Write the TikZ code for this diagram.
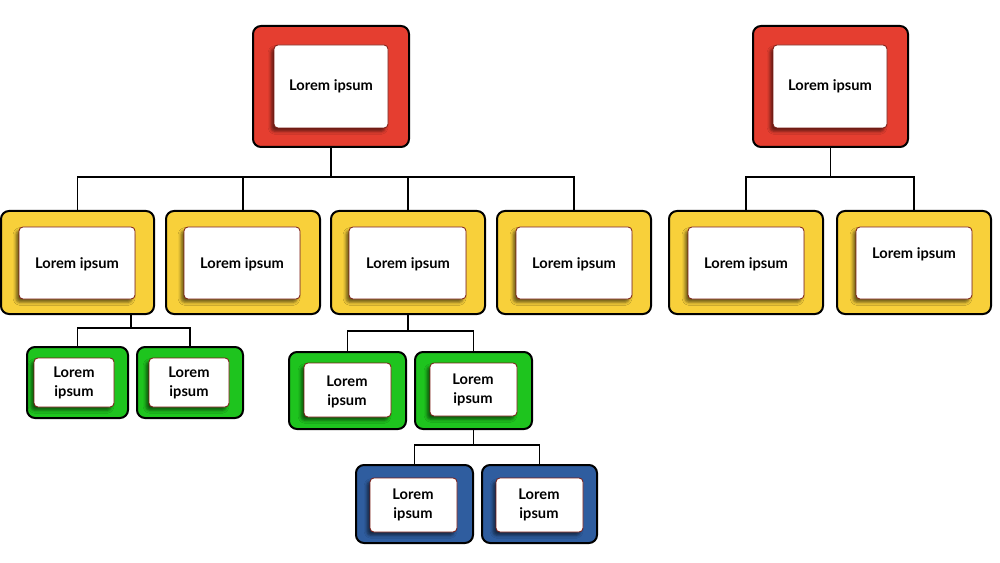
\documentclass[tikz,border=0pt]{standalone}
\usepackage{fontspec}
\setmainfont{Lato}
\usetikzlibrary{fit,shadows.blur}
\definecolor{cred}{HTML}{E53E30}
\definecolor{cyel}{HTML}{F8D03A}
\definecolor{cgrn}{HTML}{1EC41E}
\definecolor{cblu}{HTML}{2F5D9F}
\definecolor{cbord}{HTML}{7A1A12}
\tikzset{
  outer/.style={draw=black, line width=1.5pt, rounded corners=6pt, inner sep=0pt},
  redbox/.style={outer, fill=cred},
  yelbox/.style={outer, fill=cyel},
  grnbox/.style={outer, fill=cgrn},
  blubox/.style={outer, fill=cblu},
  inbox/.style={draw=cbord, line width=0.6pt, fill=white, rounded corners=3pt, inner sep=0pt,
    blur shadow={shadow xshift=-2.2pt, shadow yshift=-2.6pt, shadow opacity=55, shadow blur radius=2.2pt}},
  lbl/.style={font=\bfseries\fontsize{11}{14.25}\selectfont, align=center, text=black, inner sep=0pt},
  conn/.style={draw=black, line width=1.1pt}
}
\begin{document}
\begin{tikzpicture}[x=0.75pt,y=-0.75pt]
\useasboundingbox (0,0) rectangle (1000,563);
% outer boxes
\node[redbox, fit={(253,26)(409,147)}] (r1) {};
\node[redbox, fit={(753,26)(908,147)}] (r2) {};
\node[yelbox, fit={(1,211)(154,314)}] (y1) {};
\node[yelbox, fit={(166,211)(320,314)}] (y2) {};
\node[yelbox, fit={(331,211)(485,314)}] (y3) {};
\node[yelbox, fit={(497,211)(651,314)}] (y4) {};
\node[yelbox, fit={(669,211)(823,314)}] (y5) {};
\node[yelbox, fit={(837,211)(991,314)}] (y6) {};
\node[grnbox, fit={(27,347)(128,418)}] (g1) {};
\node[grnbox, fit={(137,347)(243,418)}] (g2) {};
\node[grnbox, fit={(289,352)(406,429)}] (g3) {};
\node[grnbox, fit={(415,352)(532,429)}] (g4) {};
\node[blubox, fit={(356,465)(473,543)}] (u1) {};
\node[blubox, fit={(482,465)(597,543)}] (u2) {};
% junction points
\coordinate (b1) at (r1.south |- 0,177);
\coordinate (b2) at (131,328);
\coordinate (b3) at (y3.south |- 0,331);
\coordinate (b4) at (g4.south |- 0,445);
\coordinate (b5) at (r2.south |- 0,177);
% connectors
\draw[conn] (r1.south) -- (b1);
\foreach \c in {y1,y2,y3,y4} \draw[conn] (\c.north) |- (b1);
\draw[conn] (r2.south) -- (b5);
\foreach \c in {y5,y6} \draw[conn] (\c.north) |- (b5);
\draw[conn] (b2 |- y1.south) -- (b2);
\foreach \c in {g1,g2} \draw[conn] (\c.north) |- (b2);
\draw[conn] (y3.south) -- (b3);
\foreach \c in {g3,g4} \draw[conn] (\c.north) |- (b3);
\draw[conn] (g4.south) -- (b4);
\foreach \c in {u1,u2} \draw[conn] (\c.north) |- (b4);
% inner boxes
\node[inbox, fit={(274,45)(388,128)}] (ir1) {};
\node[inbox, fit={(773,45)(887,128)}] (ir2) {};
\node[inbox, fit={(19,227)(135,299)}] (iy1) {};
\node[inbox, fit={(184,227)(300,299)}] (iy2) {};
\node[inbox, fit={(349,227)(466,299)}] (iy3) {};
\node[inbox, fit={(516,227)(632,299)}] (iy4) {};
\node[inbox, fit={(688,227)(804,299)}] (iy5) {};
\node[inbox, fit={(856,227)(972,299)}] (iy6) {};
\node[inbox, fit={(34,358)(114,407)}] (ig1) {};
\node[inbox, fit={(149,358)(229,407)}] (ig2) {};
\node[inbox, fit={(304,363)(391,417)}] (ig3) {};
\node[inbox, fit={(430,363)(517,416)}] (ig4) {};
\node[inbox, fit={(370,478)(457,532)}] (iu1) {};
\node[inbox, fit={(496,478)(583,532)}] (iu2) {};
% labels
\node[lbl] (t1) at (331,86) {Lorem ipsum};
\node[lbl] (t2) at (830,86) {Lorem ipsum};
\node[lbl] (t3) at (77,264) {Lorem ipsum};
\node[lbl] (t4) at (242,264) {Lorem ipsum};
\node[lbl] (t5) at (408,264) {Lorem ipsum};
\node[lbl] (t6) at (574,264) {Lorem ipsum};
\node[lbl] (t7) at (746,264) {Lorem ipsum};
\node[lbl] (t8) at (914,254) {Lorem ipsum};
\node[lbl] (t9) at (74,383) {Lorem\\ipsum};
\node[lbl] (t10) at (189,383) {Lorem\\ipsum};
\node[lbl] (t11) at (347,392) {Lorem\\ipsum};
\node[lbl] (t12) at (473,390) {Lorem\\ipsum};
\node[lbl] (t13) at (413,505) {Lorem\\ipsum};
\node[lbl] (t14) at (539,505) {Lorem\\ipsum};
\end{tikzpicture}
\end{document}
